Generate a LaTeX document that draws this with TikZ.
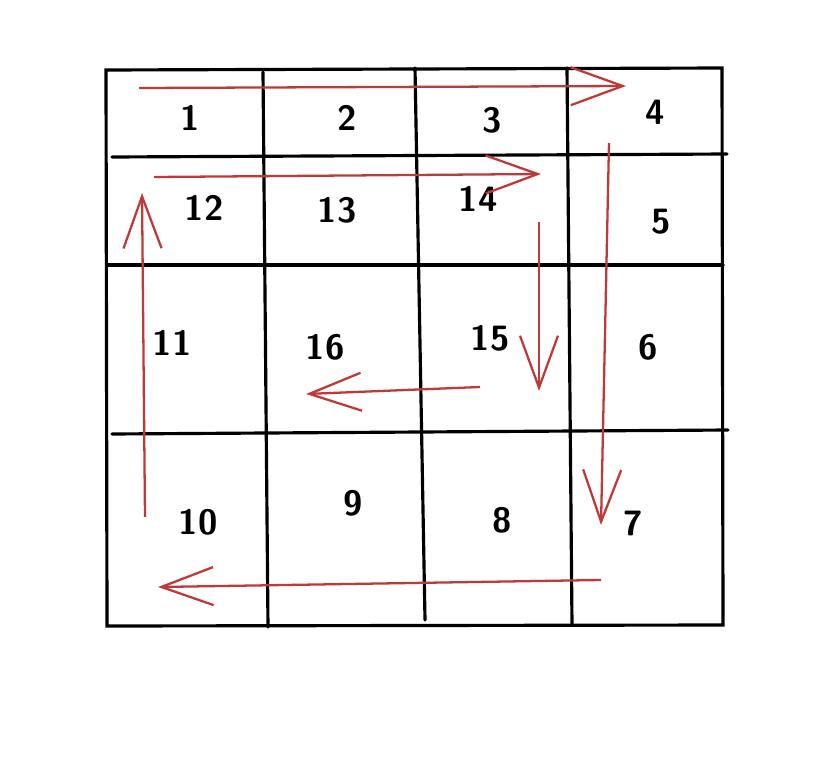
\documentclass[tikz,border=0pt]{standalone}
\usepackage{xcolor}
\usepackage{tikz}
\usetikzlibrary{arrows.meta}
\definecolor{routered}{RGB}{192,57,57}

\tikzset{
  gridline/.style={line width=1.8pt,black,line cap=round},
  routearrow/.style={draw=routered,line width=1.3pt,-{Straight Barb[length=10.4mm,width=7.6mm]}},
  cellnum/.style={font=\sffamily\bfseries\fontsize{20}{24}\selectfont,inner sep=0pt}
}

\begin{document}
\begin{tikzpicture}[x=0.02cm,y=-0.02cm]
        \useasboundingbox (0,0) rectangle (828,764);
        % grid, drawn by hand
        \draw[gridline] (106,70) -- (722,68) -- (723,625) -- (107,626) -- cycle;
        \draw[gridline] (263,72) -- (268,627);
        \draw[gridline] (415,68) -- (425,620);
        \draw[gridline] (567,68) -- (572,625);
        \draw[gridline] (112,157) -- (727,154);
        \draw[gridline] (107,265) -- (723,265);
        \draw[gridline] (112,434) -- (728,430);
        % numbers, in spiral order
        \node[cellnum] (cell1) at (190,118) {1};
        \node[cellnum] (cell2) at (347,118) {2};
        \node[cellnum] (cell3) at (492,120) {3};
        \node[cellnum] (cell4) at (655,112) {4};
        \node[cellnum] (cell5) at (661,222) {5};
        \node[cellnum] (cell6) at (648,347) {6};
        \node[cellnum] (cell7) at (633,523) {7};
        \node[cellnum] (cell8) at (502,520) {8};
        \node[cellnum] (cell9) at (353,503) {9};
        \node[cellnum] (cell10) at (198,522) {10};
        \node[cellnum] (cell11) at (172,343) {11};
        \node[cellnum] (cell12) at (204,208) {12};
        \node[cellnum] (cell13) at (337,210) {13};
        \node[cellnum] (cell14) at (478,199) {14};
        \node[cellnum] (cell15) at (490,338) {15};
        \node[cellnum] (cell16) at (325,347) {16};
        % ends of the red route
        \coordinate (topfrom) at (139,88);
        \coordinate (topto) at (626,86);
        \coordinate (rightfrom) at (609,143);
        \coordinate (rightto) at (601,525);
        \coordinate (bottomfrom) at (601,580);
        \coordinate (bottomto) at (158,587);
        \coordinate (leftfrom) at (145,517);
        \coordinate (leftto) at (142,193);
        \coordinate (innerfrom) at (154,177);
        \coordinate (innerto) at (541,174);
        \coordinate (downfrom) at (539,222);
        \coordinate (downto) at (539,391);
        \coordinate (backfrom) at (480,387);
        \coordinate (backto) at (306,394);
        \draw[routearrow] (topfrom) -- (topto);
        \draw[routearrow] (rightfrom) -- (rightto);
        \draw[routearrow] (bottomfrom) -- (bottomto);
        \draw[routearrow] (leftfrom) -- (leftto);
        \draw[routearrow] (innerfrom) -- (innerto);
        \draw[routearrow] (downfrom) -- (downto);
        \draw[routearrow] (backfrom) -- (backto);
    \end{tikzpicture}
\end{document}
